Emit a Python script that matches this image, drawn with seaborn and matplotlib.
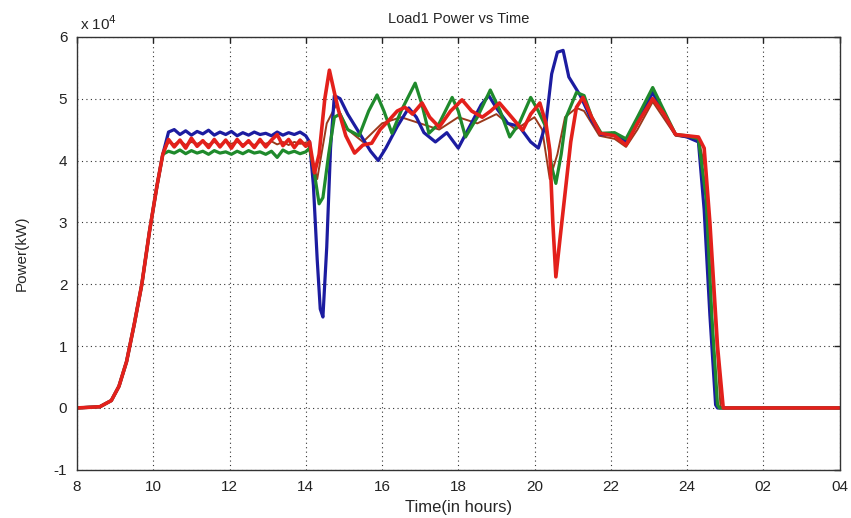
import pandas as pd
import seaborn as sns
import matplotlib.pyplot as plt

# power in units of 1e4 kW, time in hours (24+ means after midnight)
RAMP_T = [8.0, 8.6, 8.9, 9.1, 9.3, 9.5, 9.7, 9.9, 10.1, 10.25]
RAMP_V = [0.0, 0.02, 0.12, 0.35, 0.75, 1.35, 2.0, 2.85, 3.6, 4.1]

FLAT_T = [10.4, 10.55, 10.7, 10.85, 11.0, 11.15, 11.3, 11.45, 11.6, 11.75, 11.9, 12.05, 12.2,
          12.35, 12.5, 12.65, 12.8, 12.95, 13.1, 13.25, 13.4, 13.55, 13.7, 13.85, 14.0]

BLUE_FLAT = [4.46, 4.5, 4.42, 4.48, 4.41, 4.47, 4.43, 4.49, 4.41, 4.46, 4.42, 4.47, 4.4,
             4.45, 4.41, 4.46, 4.42, 4.44, 4.4, 4.46, 4.41, 4.45, 4.42, 4.46, 4.4]
GREEN_FLAT = [4.15, 4.12, 4.17, 4.11, 4.16, 4.12, 4.15, 4.1, 4.16, 4.12, 4.14, 4.1, 4.15,
              4.11, 4.16, 4.12, 4.14, 4.1, 4.15, 4.05, 4.17, 4.12, 4.15, 4.11, 4.14]
RED_FLAT = [4.34, 4.22, 4.33, 4.2, 4.36, 4.23, 4.32, 4.21, 4.34, 4.22, 4.33, 4.2, 4.34,
            4.23, 4.32, 4.21, 4.34, 4.22, 4.33, 4.42, 4.24, 4.34, 4.21, 4.33, 4.23]
BROWN_FLAT = [4.3, 4.26, 4.32, 4.25, 4.3, 4.27, 4.31, 4.26, 4.3, 4.25, 4.31, 4.27, 4.3,
              4.26, 4.29, 4.25, 4.3, 4.27, 4.31, 4.26, 4.3, 4.25, 4.3, 4.27, 4.29]

BLUE_T = [14.1, 14.2, 14.3, 14.38, 14.45, 14.55, 14.65, 14.75, 14.9, 15.1, 15.4, 15.7, 15.9,
          16.1, 16.4, 16.7, 16.9, 17.1, 17.4, 17.7, 18.0, 18.3, 18.6, 18.8, 19.0, 19.3, 19.6,
          19.9, 20.1, 20.3, 20.45, 20.6, 20.75, 20.9, 21.0, 21.2, 21.5, 21.75, 22.1, 22.4,
          22.7, 23.1, 23.4, 23.7, 24.0, 24.3, 24.45, 24.6, 24.75, 24.8, 28.0]
BLUE_V = [4.3, 3.6, 2.4, 1.6, 1.47, 2.6, 4.2, 5.05, 5.0, 4.75, 4.45, 4.15, 4.0,
          4.2, 4.55, 4.85, 4.7, 4.45, 4.3, 4.45, 4.2, 4.55, 4.9, 5.05, 4.85, 4.6, 4.55,
          4.3, 4.2, 4.6, 5.4, 5.75, 5.78, 5.35, 5.25, 5.05, 4.65, 4.42, 4.42, 4.3,
          4.6, 5.1, 4.75, 4.42, 4.38, 4.3, 3.2, 1.5, 0.05, 0.0, 0.0]

GREEN_T = [14.1, 14.2, 14.35, 14.45, 14.6, 14.75, 14.9, 15.1, 15.4, 15.65, 15.87, 16.05, 16.26,
           16.5, 16.87, 17.05, 17.23, 17.5, 17.84, 18.0, 18.19, 18.5, 18.84, 19.1, 19.35, 19.6,
           19.9, 20.1, 20.3, 20.45, 20.56, 20.7, 20.83, 21.1, 21.3, 21.5, 21.75, 22.1, 22.4,
           22.7, 23.1, 23.4, 23.7, 24.0, 24.3, 24.5, 24.65, 24.8, 24.85, 28.0]
GREEN_V = [4.2, 3.9, 3.3, 3.4, 4.1, 4.7, 4.75, 4.5, 4.4, 4.8, 5.06, 4.8, 4.44,
           4.8, 5.25, 4.9, 4.44, 4.6, 5.02, 4.8, 4.38, 4.7, 5.14, 4.8, 4.38, 4.6,
           5.02, 4.8, 4.54, 3.9, 3.63, 4.1, 4.7, 5.1, 5.05, 4.7, 4.44, 4.45, 4.35,
           4.7, 5.18, 4.8, 4.42, 4.4, 4.35, 3.4, 1.5, 0.05, 0.0, 0.0]

RED_T = [14.1, 14.23, 14.35, 14.5, 14.62, 14.75, 14.86, 15.05, 15.28, 15.5, 15.73, 15.95, 16.18,
         16.4, 16.6, 16.8, 17.05, 17.25, 17.5, 17.8, 18.1, 18.35, 18.63, 18.85, 19.08, 19.4,
         19.69, 19.9, 20.14, 20.3, 20.4, 20.48, 20.56, 20.68, 20.83, 20.95, 21.1, 21.27, 21.5,
         21.72, 22.1, 22.4, 22.7, 23.1, 23.4, 23.7, 24.0, 24.3, 24.45, 24.6, 24.8, 24.95, 28.0]
RED_V = [4.3, 3.8, 4.1, 5.0, 5.46, 5.1, 4.81, 4.4, 4.12, 4.25, 4.28, 4.5, 4.65,
         4.8, 4.86, 4.75, 4.93, 4.7, 4.54, 4.8, 4.98, 4.8, 4.7, 4.8, 4.93, 4.7,
         4.49, 4.75, 4.93, 4.6, 4.17, 3.0, 2.12, 2.8, 3.63, 4.3, 4.86, 5.02, 4.7,
         4.44, 4.4, 4.25, 4.6, 5.0, 4.75, 4.42, 4.4, 4.38, 4.2, 3.0, 1.0, 0.0, 0.0]

BROWN_T = [14.1, 14.3, 14.55, 14.8, 15.1, 15.5, 16.0, 16.5, 17.0, 17.5, 18.0, 18.5, 19.0,
           19.5, 20.0, 20.2, 20.4, 20.6, 20.8, 21.1, 21.3, 21.7, 22.1, 22.4, 22.7, 23.1,
           23.7, 24.3, 24.5, 24.7, 24.88, 28.0]
BROWN_V = [4.2, 3.7, 4.6, 4.9, 4.5, 4.3, 4.6, 4.7, 4.6, 4.5, 4.7, 4.6, 4.75,
           4.5, 4.7, 4.5, 3.7, 4.1, 4.7, 4.85, 4.8, 4.4, 4.35, 4.22, 4.5, 4.95,
           4.4, 4.35, 3.8, 1.8, 0.0, 0.0]

X_TICKS = [8, 10, 12, 14, 16, 18, 20, 22, 24, 26, 28]
X_LABELS = ['8', '10', '12', '14', '16', '18', '20', '22', '24', '02', '04']
Y_TICKS = [-1, 0, 1, 2, 3, 4, 5, 6]

SERIES = [
    ('brown', BROWN_FLAT, BROWN_T, BROWN_V, '#9a3a1c', 1.4),
    ('blue', BLUE_FLAT, BLUE_T, BLUE_V, '#1c1ca0', 2.3),
    ('green', GREEN_FLAT, GREEN_T, GREEN_V, '#1f8a2c', 2.3),
    ('red', RED_FLAT, RED_T, RED_V, '#e3201b', 2.6),
]


def build_df(flat_v, tail_t, tail_v):
    t = RAMP_T + FLAT_T + tail_t
    v = RAMP_V + flat_v + tail_v
    return pd.DataFrame({'time': t, 'power': v})


sns.set_style('white')
plt.rcParams['font.family'] = ['Liberation Sans', 'DejaVu Sans']

fig = plt.figure(figsize=(8.51, 5.18), dpi=100)
ax = fig.add_axes([0.0905, 0.093, 0.896, 0.836])

for name, flat_v, tail_t, tail_v, color, lw in SERIES:
    df = build_df(flat_v, tail_t, tail_v)
    sns.lineplot(data=df, x='time', y='power', ax=ax, color=color, linewidth=lw,
                 sort=False, estimator=None, legend=False)

ax.set_xlim(8, 28)
ax.set_ylim(-1, 6)
ax.set_xticks(X_TICKS)
ax.set_xticklabels(X_LABELS)
ax.set_yticks(Y_TICKS)
ax.set_yticklabels([str(y) for y in Y_TICKS])
ax.tick_params(direction='in', length=4, width=1, top=True, right=True,
               labelsize=11, colors='#222222', pad=7)
ax.grid(True, linestyle=(0, (1, 3)), color='#333333', linewidth=0.8)
for s in ax.spines.values():
    s.set_visible(True)
    s.set_color('#333333')
    s.set_linewidth(1.0)

ax.set_xlabel('Time(in hours)', fontsize=12, labelpad=5)
ax.set_ylabel('Power(kW)', fontsize=11, labelpad=18)
ax.set_title('Load1 Power vs Time', fontsize=10.5, pad=10)
ax.text(0.004, 1.008, r'x 10$^4$', transform=ax.transAxes, ha='left', va='bottom', fontsize=11)

fig.savefig('out.png', dpi=100)
